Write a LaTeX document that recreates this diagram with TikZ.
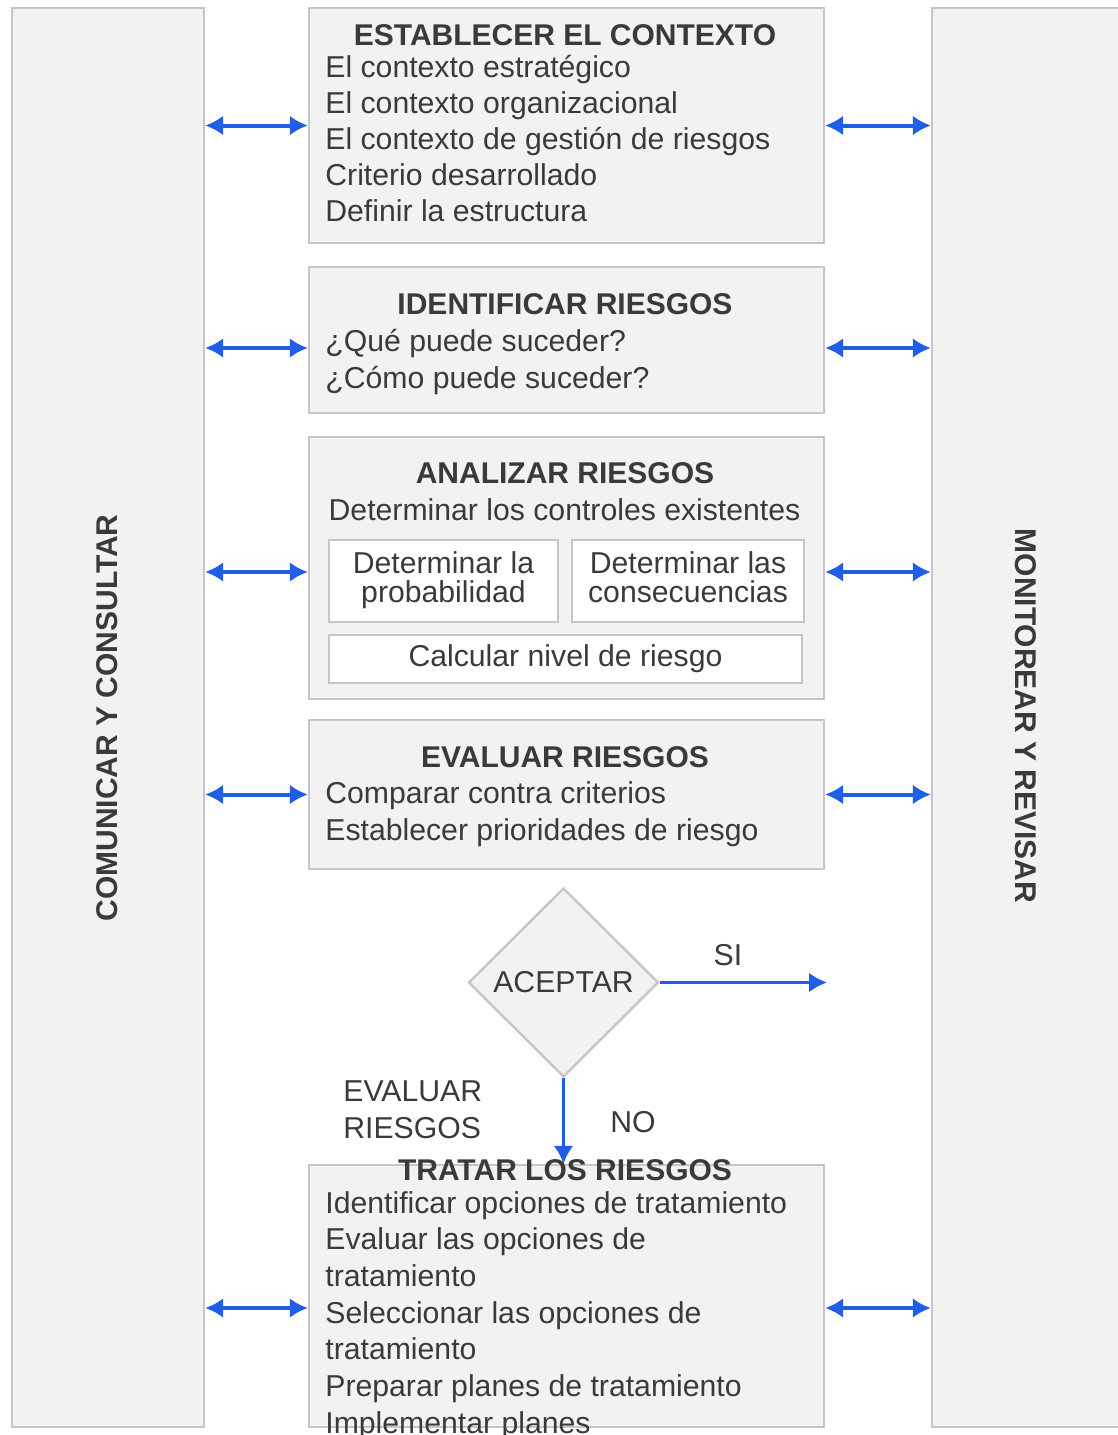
\documentclass[tikz,border=0pt]{standalone}
\usepackage{fontspec}
\setmainfont{Liberation Sans}
\usepackage{tikz}
\usetikzlibrary{arrows.meta,calc,positioning,shapes.geometric}
\definecolor{boxfill}{HTML}{F2F2F2}
\definecolor{boxline}{HTML}{C6C6C6}
\definecolor{linkblue}{HTML}{1F5FE6}
\definecolor{inkgray}{HTML}{3A3A3A}
\newcommand{\bodysize}{\fontsize{15.1}{18.5}\selectfont}
\newcommand{\headsize}{\fontsize{15}{18.5}\selectfont\bfseries}
\tikzset{
  panel/.style={draw=boxline,fill=boxfill,line width=1.2pt,minimum width=96pt,minimum height=709.5pt,inner sep=0pt},
  stage/.style={draw=boxline,fill=boxfill,line width=1.2pt,minimum width=257.5pt,inner sep=0pt},
  subbox/.style={draw=boxline,fill=white,line width=1.2pt,inner sep=0pt,align=center,text depth=3.5pt,font=\fontsize{15.1}{14.5}\selectfont},
  heading/.style={font=\headsize,anchor=base,inner sep=0pt},
  item/.style={anchor=base west,inner sep=0pt},
  label/.style={anchor=base,inner sep=0pt},
  link/.style={linkblue,line width=2pt,{Latex[length=9pt,width=10pt]}-{Latex[length=9pt,width=10pt]}},
  flow/.style={linkblue,line width=1.7pt,-{Latex[length=9pt,width=10pt]}},
  decision/.style={diamond,draw=boxline,fill=boxfill,line width=1.2pt,minimum width=95pt,minimum height=94.5pt,inner sep=0pt}
}
\begin{document}
\begin{tikzpicture}[x=0.5pt,y=-0.5pt,font=\bodysize,text=inkgray]
\useasboundingbox (0,0) rectangle (1118,1435);
\clip (0,0) rectangle (1118,1435);
\node[panel] (panelL) at (108,717.5) {};
\node[panel] (panelR) at (1028,717.5) {};
\node[heading,anchor=center,rotate=90] (comm) at (107,718) {COMUNICAR Y CONSULTAR};
\node[heading,anchor=center,rotate=-90] (moni) at (1026,716) {MONITOREAR Y REVISAR};

\node[stage,minimum height=117.5pt] (ctx) at (566.5,125.5) {};
\node[heading] (ctxT) at (565,45) {ESTABLECER EL CONTEXTO};
\foreach \t [count=\i] in {El contexto estratégico,El contexto organizacional,El contexto de gestión de riesgos,Criterio desarrollado,Definir la estructura}
  \node[item] (ctx\i) at (325,{77+36.2*(\i-1)}) {\t};

\node[stage,minimum height=73pt] (ident) at (566.5,340) {};
\node[heading] (identT) at (565,314) {IDENTIFICAR RIESGOS};
\node[item] (ident1) at (325,351) {¿Qué puede suceder?};
\node[item] (ident2) at (325,388) {¿Cómo puede suceder?};

\node[stage,minimum height=131pt] (anal) at (566.5,568) {};
\node[heading] (analT) at (565,483) {ANALIZAR RIESGOS};
\node[label] (analS) at (564.5,520) {Determinar los controles existentes};
\node[subbox,minimum width=114.5pt,minimum height=41pt] (prob) at (443.5,581) {Determinar la\\probabilidad};
\node[subbox,minimum width=116pt,minimum height=41pt] (cons) at (688,581) {Determinar las\\consecuencias};
\node[subbox,minimum width=236.5pt,minimum height=24pt] (calc) at (565.5,659) {Calcular nivel de riesgo};

\node[stage,minimum height=74.5pt] (eval) at (566.5,794.5) {};
\node[heading] (evalT) at (565,767) {EVALUAR RIESGOS};
\node[item] (eval1) at (325,803) {Comparar contra criterios};
\node[item] (eval2) at (325,840) {Establecer prioridades de riesgo};

\node[decision] (accept) at (563.5,982.5) {ACEPTAR};
\coordinate (siEnd) at (827,982.5);
\node[label] (si) at (728,965) {SI};
\node[label] (no) at (633,1132) {NO};
\node[item,align=left,anchor=north west] (back) at (343,1080) {EVALUAR\\RIESGOS};

\node[stage,minimum height=131pt] (trat) at (566.5,1296) {};
\foreach \t [count=\i] in {Identificar opciones de tratamiento,Evaluar las opciones de,tratamiento,Seleccionar las opciones de,tratamiento,Preparar planes de tratamiento,Implementar planes}
  \node[item] (trat\i) at (325,{1213+36.7*(\i-1)}) {\t};

\draw[flow] (accept.east) -- (siEnd);
\draw[flow] (accept.south) -- (accept.south |- trat.north);
\node[heading] (tratT) at (565,1180) {TRATAR LOS RIESGOS};

\foreach \b/\d in {ctx/0,ident/8,anal/4,eval/0,trat/12}{
  \draw[link] ($(\b.west -| panelL.east)+(0,\d)$) -- ($(\b.west)+(0,\d)$);
  \draw[link] ($(\b.east)+(0,\d)$) -- ($(\b.east -| panelR.west)+(0,\d)$);
}
\end{tikzpicture}
\end{document}
